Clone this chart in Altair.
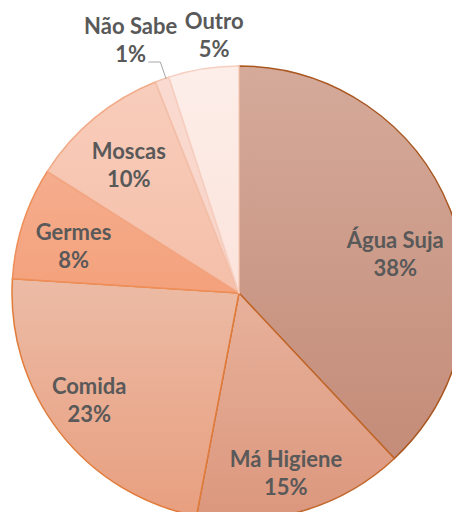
import altair as alt
import pandas as pd

# ---- data ----
categories = ["Água Suja", "Má Higiene", "Comida", "Germes", "Moscas", "Não Sabe", "Outro"]
percent = [38, 15, 23, 8, 10, 1, 5]

# ---- styles / layout ----
fill_top = ["#D5AA9A", "#E8B19B", "#ECBBA5", "#F5AD8D", "#F8CDBB", "#FADBD1", "#FDEEE9"]
fill_bottom = ["#C48C79", "#DB977D", "#E89F80", "#F4A17C", "#F5BFA9", "#F8D2C6", "#FBE3DB"]
stroke_col = ["#A9561F", "#C2672A", "#E07B39", "#EE8E58", "#F2AA88", "#F3C1AB", "#F6CFC1"]
label_radius = [161, 186, 184, 172, 169, 275, 259]
label_nudge = [7.6, 1.6, 2.3, -2.1, -1.1, -3.4, 3.5]

W, H = 444, 504
CX, CY, R = 231, 285, 227
LINE_H = 28

df = pd.DataFrame({
    "cat": categories,
    "pct": percent,
    "order": list(range(len(categories))),
    "lr": label_radius,
    "nudge": label_nudge,
})

theta_scale = alt.Scale(domain=[0, 100], range=[0, 6.283185307179586])

base = alt.Chart().transform_window(
    end="sum(pct)", sort=[alt.SortField("order")], frame=[None, 0]
).transform_calculate(
    start="datum.end - datum.pct",
    mid="(datum.end - datum.pct/2)",
)

layers = []
for i, c in enumerate(categories):
    grad = alt.LinearGradient(
        gradient="linear", x1=0, y1=0, x2=0, y2=1,
        stops=[alt.GradientStop(offset=0, color=fill_top[i]),
               alt.GradientStop(offset=1, color=fill_bottom[i])],
    )
    layers.append(
        base.transform_filter(alt.datum.cat == c)
        .mark_arc(outerRadius=R, fill=grad, stroke=stroke_col[i], strokeWidth=1.5, clip=True)
        .encode(
            theta=alt.Theta("start:Q", scale=theta_scale),
            theta2="end:Q",
            x=alt.value(CX),
            y=alt.value(CY),
        )
    )

# leader line for the small slice
leader_src = base.transform_filter(alt.datum.cat == "Não Sabe").transform_calculate(
    a="datum.mid/100*2*PI + 1.0*PI/180",
).transform_calculate(
    x1=f"{CX} + 226*sin(datum.a)",
    y1=f"{CY} - 226*cos(datum.a)",
    xe=f"{CX} + 244*sin(datum.a)",
    ye=f"{CY} - 244*cos(datum.a)",
).transform_calculate(
    xh="datum.xe - 12",
)
leader1 = leader_src.mark_rule(color="#A6A6A6", strokeWidth=1).encode(
    x=alt.X("x1:Q", scale=None, axis=None),
    y=alt.Y("y1:Q", scale=None, axis=None),
    x2="xe:Q",
    y2="ye:Q",
)
leader2 = leader_src.mark_rule(color="#A6A6A6", strokeWidth=1).encode(
    x=alt.X("xe:Q", scale=None, axis=None),
    y=alt.Y("ye:Q", scale=None, axis=None),
    x2="xh:Q",
    y2="ye:Q",
)

labels = base.transform_calculate(
    a="datum.mid/100*2*PI + datum.nudge*PI/180",
    label="datum.cat + '\\n' + datum.pct + '%'",
).transform_calculate(
    lx=f"{CX} + datum.lr*sin(datum.a)",
    ly=f"{CY} - datum.lr*cos(datum.a) - {LINE_H // 2 - 1}",
).mark_text(
    font="Lato", fontWeight="bold", fontSize=22, color="#595959",
    lineBreak="\n", lineHeight=LINE_H, align="center", baseline="middle",
).encode(
    x=alt.X("lx:Q", scale=None, axis=None),
    y=alt.Y("ly:Q", scale=None, axis=None),
    text="label:N",
)

chart = alt.layer(*layers, leader1, leader2, labels, data=df).properties(
    width=W, height=H, padding=0, autosize=alt.AutoSizeParams(type="none"),
).configure_view(strokeWidth=0)

chart.save("out.html", embed_options={"renderer": "svg", "actions": False})
